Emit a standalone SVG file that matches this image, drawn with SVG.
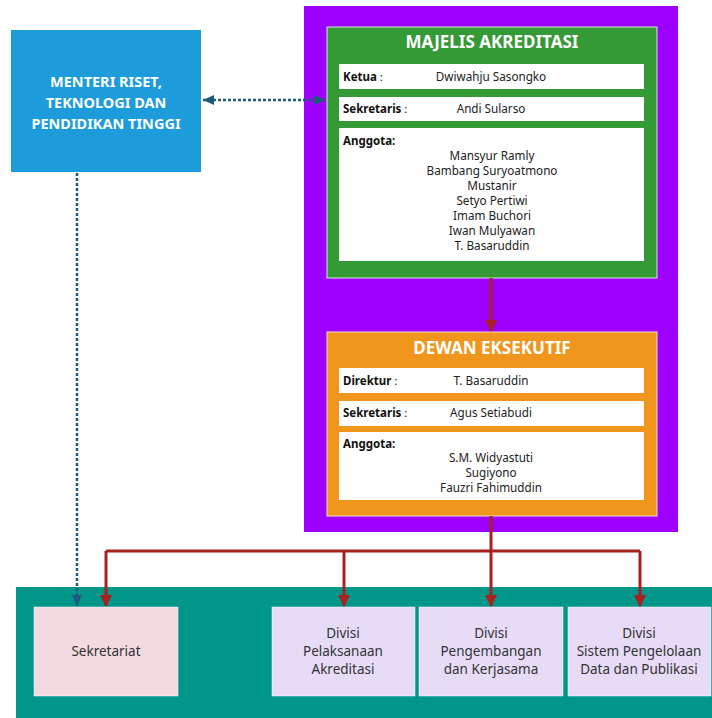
<svg xmlns="http://www.w3.org/2000/svg" width="712" height="718" viewBox="0 0 712 718">
<defs>
<style>
text{font-family:"Noto Sans","Open Sans","DejaVu Sans",sans-serif;}
.title{font-size:17px;font-weight:bold;fill:#ffffff;text-anchor:middle;}
.mtext{font-size:14.5px;font-weight:bold;fill:#ffffff;text-anchor:middle;}
.lbl{font-size:11.5px;fill:#111111;}
.b{font-weight:bold;}
.val{font-size:11.7px;fill:#222222;text-anchor:middle;}
.row{fill:#ffffff;}
.div{fill:#e6dcf8;stroke:#ffffff;stroke-width:0.5;}
.dtext{font-size:13.5px;fill:#333333;text-anchor:middle;}
.red{stroke:#a82020;stroke-width:3;fill:none;}
.dot{stroke:#1f5a7e;stroke-width:2.5;stroke-dasharray:3 2;fill:none;}
</style>
<marker id="ar" markerUnits="userSpaceOnUse" markerWidth="12" markerHeight="12" refX="11" refY="6" orient="auto">
<path d="M0,0 L12,6 L0,12 Z" fill="#a82020"/>
</marker>
<marker id="ab" markerUnits="userSpaceOnUse" markerWidth="12" markerHeight="12" refX="11" refY="6" orient="auto-start-reverse">
<path d="M0,1 L11,6 L0,11 Z" fill="#1f5a7e"/>
</marker>
</defs>
<rect width="712" height="718" fill="#ffffff"/>

<g id="teal-panel">
<rect x="16" y="587" width="696" height="131" fill="#00968a"/>
</g>

<g id="purple-panel">
<rect x="304" y="6" width="374" height="526" fill="#9e00ff"/>
</g>

<g id="menteri">
<rect x="11" y="30" width="190" height="142" fill="#1d9cdb"/>
<text class="mtext" x="106" y="87">MENTERI RISET,</text>
<text class="mtext" x="106" y="108">TEKNOLOGI DAN</text>
<text class="mtext" x="106" y="129">PENDIDIKAN TINGGI</text>
</g>

<g id="majelis">
<rect x="327" y="27" width="330" height="251" fill="#349a35" stroke="#d8e8d8" stroke-width="1"/>
<text class="title" x="492" y="48">MAJELIS AKREDITASI</text>
<rect class="row" x="339" y="64" width="305" height="25"/>
<text class="lbl" x="343" y="81"><tspan class="b">Ketua</tspan> :</text>
<text class="val" x="491" y="81">Dwiwahju Sasongko</text>
<rect class="row" x="339" y="97" width="305" height="24"/>
<text class="lbl" x="343" y="113"><tspan class="b">Sekretaris</tspan> :</text>
<text class="val" x="491" y="113">Andi Sularso</text>
<rect class="row" x="339" y="128" width="305" height="133"/>
<text class="lbl b" x="343" y="145">Anggota:</text>
<text class="val" x="492" y="160">Mansyur Ramly</text>
<text class="val" x="492" y="175">Bambang Suryoatmono</text>
<text class="val" x="492" y="190">Mustanir</text>
<text class="val" x="492" y="205">Setyo Pertiwi</text>
<text class="val" x="492" y="220">Imam Buchori</text>
<text class="val" x="492" y="235">Iwan Mulyawan</text>
<text class="val" x="492" y="250">T. Basaruddin</text>
</g>

<g id="dewan">
<rect x="327" y="332" width="330" height="184" fill="#f0961c" stroke="#f6e2c0" stroke-width="1"/>
<text class="title" x="492" y="354">DEWAN EKSEKUTIF</text>
<rect class="row" x="339" y="368" width="305" height="25"/>
<text class="lbl" x="343" y="385"><tspan class="b">Direktur</tspan> :</text>
<text class="val" x="491" y="385">T. Basaruddin</text>
<rect class="row" x="339" y="401" width="305" height="25"/>
<text class="lbl" x="343" y="417"><tspan class="b">Sekretaris</tspan> :</text>
<text class="val" x="491" y="417">Agus Setiabudi</text>
<rect class="row" x="339" y="432" width="305" height="68"/>
<text class="lbl b" x="343" y="448">Anggota:</text>
<text class="val" x="491" y="462">S.M. Widyastuti</text>
<text class="val" x="491" y="477">Sugiyono</text>
<text class="val" x="491" y="492">Fauzri Fahimuddin</text>
</g>

<g id="sekretariat">
<rect x="34" y="607" width="144" height="89" fill="#f2dae0" stroke="#ffffff" stroke-width="0.5"/>
<text class="dtext" x="106" y="656">Sekretariat</text>
</g>

<g id="div-pelaksanaan">
<rect class="div" x="272" y="607" width="143" height="89"/>
<text class="dtext" x="343" y="638">Divisi</text>
<text class="dtext" x="343" y="656">Pelaksanaan</text>
<text class="dtext" x="343" y="674">Akreditasi</text>
</g>

<g id="div-pengembangan">
<rect class="div" x="419" y="607" width="144" height="89"/>
<text class="dtext" x="491" y="638">Divisi</text>
<text class="dtext" x="491" y="656">Pengembangan</text>
<text class="dtext" x="491" y="674">dan Kerjasama</text>
</g>

<g id="div-sistem">
<rect class="div" x="568" y="607" width="143" height="89"/>
<text class="dtext" x="639" y="638">Divisi</text>
<text class="dtext" x="639" y="656">Sistem Pengelolaan</text>
<text class="dtext" x="639" y="674">Data dan Publikasi</text>
</g>

<g id="connectors">
<line class="red" x1="491" y1="278" x2="491" y2="331" marker-end="url(#ar)"/>
<line class="red" x1="491" y1="516" x2="491" y2="606" marker-end="url(#ar)"/>
<line class="red" x1="106" y1="551" x2="640" y2="551"/>
<polyline class="red" points="106,551 106,606" marker-end="url(#ar)"/>
<polyline class="red" points="344,551 344,606" marker-end="url(#ar)"/>
<polyline class="red" points="640,551 640,606" marker-end="url(#ar)"/>
<line class="dot" x1="203" y1="100" x2="325" y2="100" marker-start="url(#ab)" marker-end="url(#ab)"/>
<line class="dot" x1="77" y1="173" x2="77" y2="606" marker-end="url(#ab)"/>
</g>
</svg>
